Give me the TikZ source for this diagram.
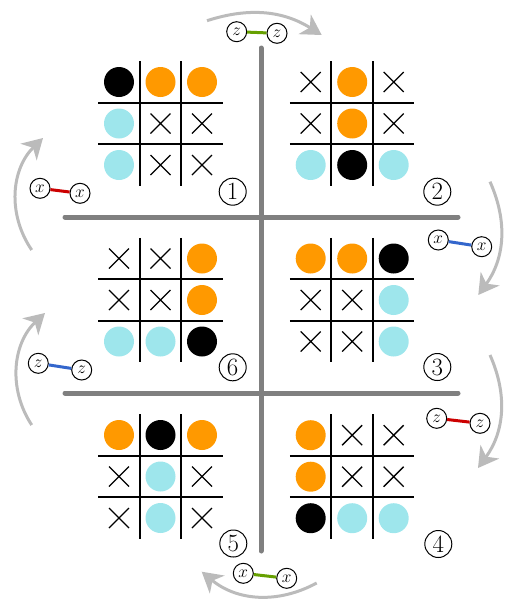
\documentclass[tikz,border=0pt]{standalone}
\usetikzlibrary{arrows.meta}
\definecolor{myorange}{HTML}{FF9900}
\definecolor{mycyan}{HTML}{9EE6EC}
\definecolor{mygray}{HTML}{808080}
\definecolor{arcgray}{HTML}{BBBBBB}
\definecolor{myred}{HTML}{CC0000}
\definecolor{myblue}{HTML}{3366CC}
\definecolor{mygreen}{HTML}{66A000}
\newcommand{\tttgrid}[3]{%
  \begin{scope}[shift={(#1,#2)}]
    \draw[gridline] (-62.25,-20.75) -- (62.25,-20.75);
    \draw[gridline] (-62.25,20.75) -- (62.25,20.75);
    \draw[gridline] (-20.75,-62.25) -- (-20.75,62.25);
    \draw[gridline] (20.75,-62.25) -- (20.75,62.25);
    \foreach \v [count=\i from 0] in {#3}{
      \pgfmathsetmacro\cx{(mod(\i,3)-1)*41.5}
      \pgfmathsetmacro\cy{(div(\i,3)-1)*41.5}
      \ifcase\v\relax
        \draw[xmark] (\cx-10,\cy-10) -- (\cx+10,\cy+10) (\cx-10,\cy+10) -- (\cx+10,\cy-10);
      \or \fill[black] (\cx,\cy) circle[radius=15];
      \or \fill[myorange] (\cx,\cy) circle[radius=15];
      \or \fill[mycyan] (\cx,\cy) circle[radius=15];
      \fi
    }
  \end{scope}}
\begin{document}
\begin{tikzpicture}[x=1pt,y=-1pt,
  gridline/.style={line width=2pt},
  xmark/.style={line width=1.3pt},
  divider/.style={mygray, line width=5pt, line cap=round},
  cyc/.style={arcgray, line width=3pt, -{Stealth[length=20pt,width=23pt,inset=6pt]}},
  lbl/.style={circle, draw, line width=1pt, fill=white, minimum size=20pt, inner sep=0pt, font=\LARGE},
  num/.style={circle, draw, line width=1pt, minimum size=27pt, inner sep=0pt, font=\Huge},
  conn/.style={line width=3pt}
]
\useasboundingbox (0,0) rectangle (511,600);

% cycle arrows
\coordinate (a1s) at (207,20.7);   \coordinate (a1e) at (321.7,35);
\coordinate (a2s) at (490,181.7);  \coordinate (a2e) at (478.3,295);
\coordinate (a3s) at (490,355);    \coordinate (a3e) at (478,468);
\coordinate (a4s) at (316.7,583);  \coordinate (a4e) at (201.7,571.7);
\coordinate (a5s) at (31.7,425);   \coordinate (a5e) at (45,313);
\coordinate (a6s) at (31.7,250);   \coordinate (a6e) at (43,138);
\draw[cyc] (a1s) to[bend left=25] (a1e);
\draw[cyc] (a2s) to[bend left=30] (a2e);
\draw[cyc] (a3s) to[bend left=30] (a3e);
\draw[cyc] (a4s) to[bend left=34] (a4e);
\draw[cyc] (a5s) to[bend left=40] (a5e);
\draw[cyc] (a6s) to[bend left=40] (a6e);

% dividers
\coordinate (vt) at (261,48);  \coordinate (vb) at (261,551);
\coordinate (h1l) at (65,217); \coordinate (h1r) at (458,217);
\coordinate (h2l) at (65,393); \coordinate (h2r) at (458,393);
\draw[divider] (vt) -- (vb);
\draw[divider] (h1l) -- (h1r);
\draw[divider] (h2l) -- (h2r);

% grids: 0 = cross, 1 = black, 2 = orange, 3 = cyan
\tttgrid{160.5}{123.5}{1,2,2,3,0,0,3,0,0}
\tttgrid{352.2}{123.5}{0,2,0,0,2,0,3,1,3}
\tttgrid{160.5}{300}{0,0,2,0,0,2,3,3,1}
\tttgrid{352.2}{300}{2,2,1,0,0,3,0,0,3}
\tttgrid{160.5}{476.5}{2,1,2,0,3,0,0,3,0}
\tttgrid{352.2}{476.7}{2,0,0,2,0,0,1,3,3}

% numbers
\node[num] (n1) at (232.7,191.7) {1};
\node[num] (n2) at (437.3,191.7) {2};
\node[num] (n3) at (437.3,367) {3};
\node[num] (n4) at (438.3,544) {4};
\node[num] (n5) at (233.3,543.5) {5};
\node[num] (n6) at (232.7,367.3) {6};

% edge labels
\node[lbl] (t1) at (236.7,31.7) {$z$};
\node[lbl] (t2) at (277,33.3) {$z$};
\draw[conn,mygreen] (t1) -- (t2);
\node[lbl] (r1) at (438.3,240) {$x$};
\node[lbl] (r2) at (481.7,246.7) {$x$};
\draw[conn,myblue] (r1) -- (r2);
\node[lbl] (s1) at (436.7,418.3) {$z$};
\node[lbl] (s2) at (480,423.3) {$z$};
\draw[conn,myred] (s1) -- (s2);
\node[lbl] (b1) at (243.3,573.3) {$x$};
\node[lbl] (b2) at (286.7,578.3) {$x$};
\draw[conn,mygreen] (b1) -- (b2);
\node[lbl] (p1) at (38.3,363.3) {$z$};
\node[lbl] (p2) at (81.7,370) {$z$};
\draw[conn,myblue] (p1) -- (p2);
\node[lbl] (q1) at (40,188.3) {$x$};
\node[lbl] (q2) at (80,193.3) {$x$};
\draw[conn,myred] (q1) -- (q2);
\end{tikzpicture}
\end{document}
